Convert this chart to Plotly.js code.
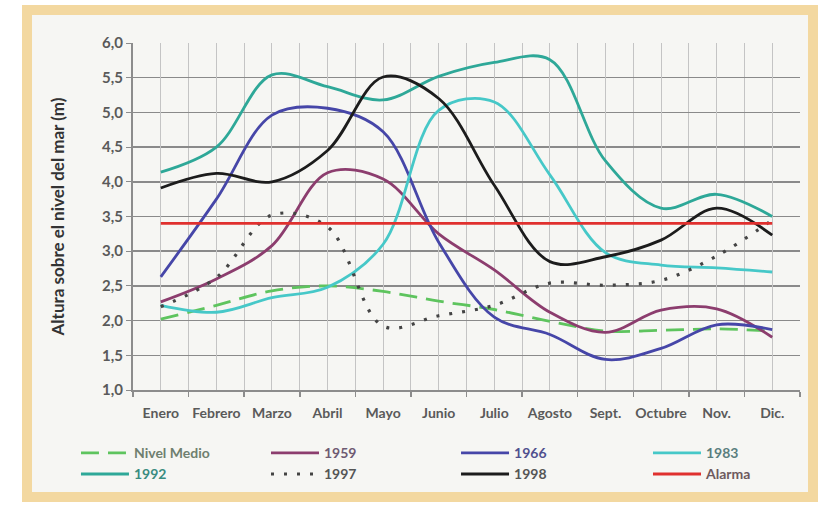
<!DOCTYPE html>
<html>
<head>
<meta charset="utf-8">
<script src="https://cdn.plot.ly/plotly-3.0.1.min.js"></script>
<style>html,body{margin:0;padding:0;background:#fff;}#chart{width:824px;height:506px;}</style>
</head>
<body>
<div id="chart"></div>
<script>
const months = ['Enero','Febrero','Marzo','Abril','Mayo','Junio','Julio','Agosto','Sept.','Octubre','Nov.','Dic.'];
const nivelMedio = [2.02,2.22,2.43,2.50,2.42,2.28,2.16,1.99,1.85,1.86,1.88,1.85];
const y1959 = [2.27,2.60,3.08,4.13,4.04,3.25,2.73,2.12,1.83,2.15,2.17,1.76];
const y1966 = [2.63,3.75,4.96,5.06,4.72,3.13,2.05,1.80,1.44,1.60,1.94,1.87];
const y1983 = [2.22,2.12,2.33,2.48,3.10,5.03,5.15,4.10,2.98,2.80,2.76,2.70];
const y1992 = [4.14,4.50,5.54,5.37,5.18,5.52,5.72,5.76,4.30,3.62,3.82,3.50];
const y1997 = [2.20,2.62,3.52,3.35,1.92,2.07,2.22,2.54,2.51,2.58,2.93,3.45];
const y1998 = [3.91,4.12,4.00,4.45,5.51,5.20,3.95,2.85,2.92,3.16,3.62,3.23];
const alarma = [3.4,3.4,3.4,3.4,3.4,3.4,3.4,3.4,3.4,3.4,3.4,3.4];
const names = ['Nivel Medio','1959','1966','1983','1992','1997','1998','Alarma'];

const F = 'Lato, "Open Sans", sans-serif';
function tr(name, y, color, dash, width, txtColor, leg){
  return {x: months, y: y, type:'scatter', mode:'lines',
    name: '<span style="color:'+txtColor+'">'+name+'</span>',
    legend: leg, legendgroup: name,
    line:{color:color, width:width, dash:dash, shape:'spline', smoothing:1},
    hoverinfo:'skip'};
}
const data = [
  tr(names[0], nivelMedio, '#5ec45e', '18px,9px', 2.8, '#6f7f6f', 'legend'),
  tr(names[1], y1959, '#8c3d6e', 'solid', 2.8, '#6e5a72', 'legend2'),
  tr(names[2], y1966, '#4646a8', 'solid', 2.8, '#50508e', 'legend3'),
  tr(names[3], y1983, '#46c8c8', 'solid', 2.8, '#5a7e7e', 'legend4'),
  tr(names[4], y1992, '#2ea898', 'solid', 2.8, '#3a8c80', 'legend'),
  tr(names[5], y1997, '#444444', '3px,10px', 3.2, '#555555', 'legend2'),
  tr(names[6], y1998, '#1c1c1c', 'solid', 2.8, '#555555', 'legend3'),
  tr(names[7], alarma, '#e0302e', 'solid', 2.8, '#6e5a5e', 'legend4')
];
// helper trace for the half-category grid (no visible marks)
data.push({x: months.map((m,i)=>i), y: alarma, xaxis:'x2', type:'scatter', mode:'lines',
  line:{width:0, color:'rgba(0,0,0,0)'}, showlegend:false, hoverinfo:'skip'});

function leg(x){
  return {orientation:'v', x:x, xanchor:'left', y:-0.136, yanchor:'top',
    itemwidth:48, tracegroupgap:6,
    font:{family:F, size:14, color:'#666666', weight:'bold'},
    bgcolor:'rgba(0,0,0,0)', traceorder:'normal'};
}

const layout = {
  width: 824, height: 506,
  margin: {l:133, r:24, t:43, b:116},
  paper_bgcolor: '#ffffff',
  plot_bgcolor: 'rgba(0,0,0,0)',
  separators: ',.',
  font: {family: F},
  showlegend: true,
  xaxis: {
    type:'category', range:[-0.5, 11.5], tickson:'boundaries',
    ticks:'outside', ticklen:5, tickcolor:'#8c8c8c', tickwidth:1.5,
    showgrid:true, gridcolor:'#c4c4c4', gridwidth:1,
    showline:true, linecolor:'#8c8c8c', linewidth:2,
    ticklabelstandoff: 9, tickangle:0, automargin:false,
    tickfont:{family:F, size:14, color:'#5a5a5a', weight:'bold'},
    zeroline:false, fixedrange:true
  },
  xaxis2: {
    overlaying:'x', type:'linear', range:[-0.5, 11.5], tick0:0, dtick:1,
    showgrid:true, gridcolor:'#c4c4c4', gridwidth:1, automargin:false,
    showticklabels:false, ticks:'', zeroline:false, showline:false, side:'bottom'
  },
  yaxis: {
    range:[1, 6], dtick:0.5, tick0:1, tickformat:'.1f',
    ticks:'outside', ticklen:5, tickcolor:'#8c8c8c', automargin:false,
    showgrid:true, gridcolor:'#8a8a8a', gridwidth:1.5,
    showline:true, linecolor:'#8c8c8c', linewidth:2,
    tickfont:{family:F, size:15, color:'#5a5a5a', weight:'bold'},
    zeroline:false, fixedrange:true,
    title:{text:'Altura sobre el nivel del mar (m)', standoff:33,
      font:{family:F, size:17, color:'#333333', weight:'bold'}}
  },
  legend: leg(-0.0855),
  legend2: leg(0.1994),
  legend3: leg(0.4843),
  legend4: leg(0.7721),
  shapes: [{
    type:'rect', xref:'paper', yref:'paper', layer:'below',
    x0:-0.1589, x1:1.0195, y0:-0.3084, y1:1.0951,
    line:{color:'#f3d8a0', width:10}, fillcolor:'#f6f6f3'
  }]
};
Plotly.newPlot('chart', data, layout, {displayModeBar:false, staticPlot:true});
</script>
</body>
</html>
